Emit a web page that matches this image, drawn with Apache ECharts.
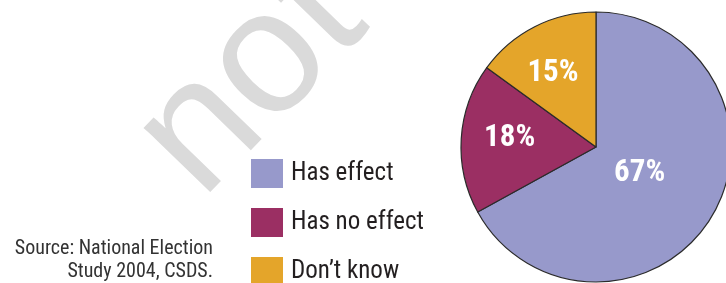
<!DOCTYPE html>
<html>
<head>
<meta charset="utf-8">
<script src="https://cdn.jsdelivr.net/npm/echarts@6/dist/echarts.min.js"></script>
<style>
  html, body { margin: 0; padding: 0; background: #fff; }
  #chart { width: 726px; height: 283px; }
</style>
</head>
<body>
<div id="chart"></div>
<script>
// data
const categories = ['Has effect', 'Has no effect', 'Don\u2019t know'];
const shares = [67, 18, 15];
const colors = ['#9799cb', '#9b2f63', '#e4a52a'];
const sourceLines = ['Source: National Election', 'Study 2004, CSDS.'];

// label nudges so the % sit where the reference has them
const labelShift = [[-17, -10], [-16, -4], [-11, -11]];

const narrow = '"Liberation Sans Narrow", "Roboto Condensed", "Arial Narrow", Roboto, sans-serif';

const chart = echarts.init(document.getElementById('chart'), null, { renderer: 'canvas' });

const option = {
  backgroundColor: '#ffffff',
  animation: false,
  color: colors,
  graphic: [
    {
      // faint "not" watermark behind the chart
      type: 'text',
      z: -10,
      x: 252,
      y: 80,
      rotation: 0.8,
      style: {
        text: 'not',
        fontSize: 175,
        fontFamily: 'Liberation Sans, sans-serif',
        fill: '#dadada',
        align: 'center',
        verticalAlign: 'middle'
      }
    },
    {
      type: 'text',
      x: 213,
      y: 237,
      style: {
        text: sourceLines.join('\n'),
        fontSize: 20,
        lineHeight: 23,
        fontFamily: narrow,
        fill: '#333333',
        align: 'right'
      }
    }
  ],
  legend: {
    orient: 'vertical',
    left: 251,
    top: 159,
    height: 140,
    padding: 0,
    icon: 'rect',
    itemWidth: 32,
    itemHeight: 29,
    itemGap: 20,
    selectedMode: false,
    data: categories,
    itemStyle: { borderWidth: 0 },
    textStyle: {
      fontSize: 25,
      fontFamily: narrow,
      color: '#231f20',
      padding: [0, 0, 0, 3]
    }
  },
  series: [
    {
      type: 'pie',
      center: [596, 147],
      radius: 135,
      startAngle: 90,
      clockwise: true,
      avoidLabelOverlap: false,
      itemStyle: {
        borderColor: '#2b2b2b',
        borderWidth: 1.2
      },
      label: {
        show: true,
        position: 'inside',
        formatter: '{c}%',
        color: '#ffffff',
        fontSize: 31,
        fontWeight: 'bold',
        fontFamily: narrow
      },
      labelLayout: function (params) {
        const s = labelShift[params.dataIndex];
        return { dx: s[0], dy: s[1] };
      },
      emphasis: { disabled: true },
      data: categories.map((name, i) => ({ name: name, value: shares[i] }))
    }
  ]
};

chart.setOption(option);
</script>
</body>
</html>
